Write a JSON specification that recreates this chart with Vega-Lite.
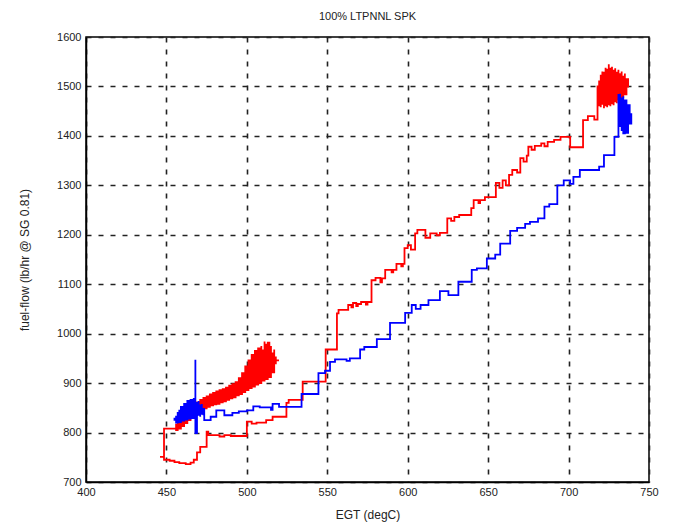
{
  "$schema": "https://vega.github.io/schema/vega-lite/v6.json",
  "width": 563,
  "height": 445,
  "autosize": {"type": "none"},
  "padding": {"left": 86, "top": 37, "right": 31, "bottom": 46},
  "background": "white",
  "title": {
    "text": "100% LTPNNL SPK",
    "font": "Liberation Sans",
    "fontSize": 11,
    "fontWeight": "normal",
    "color": "#222222",
    "anchor": "middle",
    "offset": 9
  },
  "config": {
    "view": {"stroke": "black", "strokeWidth": 1.5},
    "axis": {
      "labelFont": "Liberation Sans",
      "titleFont": "Liberation Sans",
      "labelFontSize": 11,
      "titleFontSize": 12,
      "titleFontWeight": "normal",
      "labelColor": "#222222",
      "titleColor": "#222222",
      "domainColor": "black",
      "domainWidth": 1.5,
      "ticks": false,
      "grid": true,
      "gridColor": "#222222",
      "gridDash": [5, 7],
      "gridWidth": 1.6,
      "gridOpacity": 1,
      "labelFlush": false,
      "format": "d"
    }
  },
  "datasets": {
    "red": [
      {"egt": 520, "ff": 946}, {"egt": 518, "ff": 938}, {"egt": 518, "ff": 952}, {"egt": 517, "ff": 968},
      {"egt": 517, "ff": 922}, {"egt": 516, "ff": 928}, {"egt": 516, "ff": 960}, {"egt": 515, "ff": 975},
      {"egt": 515, "ff": 912}, {"egt": 514, "ff": 918}, {"egt": 514, "ff": 982}, {"egt": 513, "ff": 970},
      {"egt": 513, "ff": 908}, {"egt": 512, "ff": 915}, {"egt": 512, "ff": 978}, {"egt": 511, "ff": 984},
      {"egt": 511, "ff": 905}, {"egt": 510, "ff": 912}, {"egt": 510, "ff": 966}, {"egt": 509, "ff": 975},
      {"egt": 509, "ff": 900}, {"egt": 508, "ff": 908}, {"egt": 508, "ff": 970}, {"egt": 507, "ff": 958},
      {"egt": 507, "ff": 897}, {"egt": 506, "ff": 904}, {"egt": 506, "ff": 965}, {"egt": 505, "ff": 950},
      {"egt": 505, "ff": 893}, {"egt": 504, "ff": 900}, {"egt": 504, "ff": 957}, {"egt": 503, "ff": 940},
      {"egt": 503, "ff": 890}, {"egt": 502, "ff": 896}, {"egt": 502, "ff": 946}, {"egt": 501, "ff": 928},
      {"egt": 501, "ff": 886}, {"egt": 500, "ff": 892}, {"egt": 500, "ff": 934}, {"egt": 499, "ff": 915},
      {"egt": 499, "ff": 882}, {"egt": 498, "ff": 888}, {"egt": 498, "ff": 920}, {"egt": 497, "ff": 905},
      {"egt": 497, "ff": 878}, {"egt": 496, "ff": 884}, {"egt": 496, "ff": 910}, {"egt": 495, "ff": 896},
      {"egt": 495, "ff": 875}, {"egt": 494, "ff": 880}, {"egt": 494, "ff": 902}, {"egt": 493, "ff": 893},
      {"egt": 493, "ff": 871}, {"egt": 492, "ff": 877}, {"egt": 492, "ff": 898}, {"egt": 491, "ff": 888},
      {"egt": 491, "ff": 869}, {"egt": 490, "ff": 874}, {"egt": 490, "ff": 895}, {"egt": 489, "ff": 885},
      {"egt": 489, "ff": 866}, {"egt": 488, "ff": 871}, {"egt": 488, "ff": 891}, {"egt": 487, "ff": 881},
      {"egt": 487, "ff": 863}, {"egt": 486, "ff": 869}, {"egt": 486, "ff": 888}, {"egt": 485, "ff": 878},
      {"egt": 485, "ff": 861}, {"egt": 484, "ff": 866}, {"egt": 484, "ff": 886}, {"egt": 483, "ff": 874},
      {"egt": 483, "ff": 858}, {"egt": 482, "ff": 864}, {"egt": 482, "ff": 883}, {"egt": 481, "ff": 871},
      {"egt": 481, "ff": 857}, {"egt": 480, "ff": 862}, {"egt": 480, "ff": 880}, {"egt": 479, "ff": 868},
      {"egt": 479, "ff": 855}, {"egt": 478, "ff": 860}, {"egt": 478, "ff": 877}, {"egt": 477, "ff": 866},
      {"egt": 477, "ff": 852}, {"egt": 476, "ff": 857}, {"egt": 476, "ff": 873}, {"egt": 475, "ff": 862},
      {"egt": 475, "ff": 849}, {"egt": 474, "ff": 854}, {"egt": 474, "ff": 870}, {"egt": 473, "ff": 859},
      {"egt": 473, "ff": 845}, {"egt": 472, "ff": 850}, {"egt": 472, "ff": 866}, {"egt": 471, "ff": 855},
      {"egt": 471, "ff": 842}, {"egt": 470, "ff": 846}, {"egt": 470, "ff": 861}, {"egt": 469, "ff": 850},
      {"egt": 469, "ff": 836}, {"egt": 468, "ff": 840}, {"egt": 468, "ff": 856}, {"egt": 467, "ff": 845},
      {"egt": 467, "ff": 831}, {"egt": 466, "ff": 834}, {"egt": 466, "ff": 849}, {"egt": 465, "ff": 839},
      {"egt": 465, "ff": 825}, {"egt": 464, "ff": 829}, {"egt": 464, "ff": 843}, {"egt": 463, "ff": 832},
      {"egt": 463, "ff": 819}, {"egt": 462, "ff": 824}, {"egt": 462, "ff": 837}, {"egt": 461, "ff": 826},
      {"egt": 461, "ff": 813}, {"egt": 460, "ff": 818}, {"egt": 460, "ff": 830}, {"egt": 459, "ff": 820},
      {"egt": 459, "ff": 808}, {"egt": 458, "ff": 812}, {"egt": 458, "ff": 824}, {"egt": 457, "ff": 815},
      {"egt": 457, "ff": 805}, {"egt": 456, "ff": 818}, {"egt": 456, "ff": 808},
      {"egt": 448.5, "ff": 806}, {"egt": 448.5, "ff": 751}, {"egt": 446, "ff": 751}, {"egt": 448.5, "ff": 745},
      {"egt": 452, "ff": 743}, {"egt": 455, "ff": 740}, {"egt": 458, "ff": 738}, {"egt": 462, "ff": 736},
      {"egt": 465, "ff": 739}, {"egt": 467, "ff": 745}, {"egt": 469, "ff": 760}, {"egt": 471, "ff": 771},
      {"egt": 475, "ff": 802}, {"egt": 476, "ff": 795}, {"egt": 483, "ff": 792}, {"egt": 486, "ff": 795},
      {"egt": 490, "ff": 793}, {"egt": 500, "ff": 822}, {"egt": 503, "ff": 818}, {"egt": 506, "ff": 820},
      {"egt": 512, "ff": 825}, {"egt": 516, "ff": 832}, {"egt": 524.6, "ff": 860}, {"egt": 526, "ff": 866},
      {"egt": 534.7, "ff": 903}, {"egt": 549, "ff": 968}, {"egt": 556, "ff": 1041}, {"egt": 557, "ff": 1048},
      {"egt": 563, "ff": 1058}, {"egt": 565, "ff": 1053}, {"egt": 566, "ff": 1062}, {"egt": 568, "ff": 1056},
      {"egt": 569, "ff": 1060}, {"egt": 571, "ff": 1064}, {"egt": 574, "ff": 1059}, {"egt": 575, "ff": 1064},
      {"egt": 577.5, "ff": 1108}, {"egt": 580, "ff": 1113}, {"egt": 583, "ff": 1104}, {"egt": 584, "ff": 1112},
      {"egt": 586, "ff": 1129}, {"egt": 590, "ff": 1124}, {"egt": 591, "ff": 1129}, {"egt": 593, "ff": 1141},
      {"egt": 596, "ff": 1136}, {"egt": 597, "ff": 1141}, {"egt": 598, "ff": 1173}, {"egt": 600, "ff": 1179},
      {"egt": 602, "ff": 1170}, {"egt": 604.6, "ff": 1203}, {"egt": 606, "ff": 1210}, {"egt": 611, "ff": 1194},
      {"egt": 614, "ff": 1203}, {"egt": 618, "ff": 1199}, {"egt": 620, "ff": 1204}, {"egt": 624.6, "ff": 1233},
      {"egt": 627, "ff": 1228}, {"egt": 629, "ff": 1236}, {"egt": 632, "ff": 1240}, {"egt": 639.5, "ff": 1254},
      {"egt": 641, "ff": 1270}, {"egt": 644, "ff": 1264}, {"egt": 645, "ff": 1270}, {"egt": 648, "ff": 1276},
      {"egt": 654.8, "ff": 1305}, {"egt": 657, "ff": 1295}, {"egt": 659, "ff": 1310}, {"egt": 661, "ff": 1300},
      {"egt": 663, "ff": 1321}, {"egt": 665, "ff": 1331}, {"egt": 668, "ff": 1326}, {"egt": 670, "ff": 1355},
      {"egt": 672, "ff": 1348}, {"egt": 674, "ff": 1360}, {"egt": 675, "ff": 1378}, {"egt": 677, "ff": 1372},
      {"egt": 679, "ff": 1380}, {"egt": 683, "ff": 1385}, {"egt": 685, "ff": 1379}, {"egt": 687, "ff": 1388},
      {"egt": 691, "ff": 1392}, {"egt": 695, "ff": 1398}, {"egt": 701, "ff": 1377}, {"egt": 709, "ff": 1432},
      {"egt": 712, "ff": 1440}, {"egt": 716, "ff": 1433}, {"egt": 718, "ff": 1470},
      {"egt": 718, "ff": 1500}, {"egt": 719, "ff": 1512}, {"egt": 719, "ff": 1462}, {"egt": 720, "ff": 1458},
      {"egt": 720, "ff": 1522}, {"egt": 721, "ff": 1530}, {"egt": 721, "ff": 1465}, {"egt": 722, "ff": 1456},
      {"egt": 722, "ff": 1528}, {"egt": 723, "ff": 1538}, {"egt": 723, "ff": 1462}, {"egt": 724, "ff": 1458},
      {"egt": 724, "ff": 1534}, {"egt": 725, "ff": 1545}, {"egt": 725, "ff": 1464}, {"egt": 726, "ff": 1460},
      {"egt": 726, "ff": 1536}, {"egt": 727, "ff": 1540}, {"egt": 727, "ff": 1466}, {"egt": 728, "ff": 1462},
      {"egt": 728, "ff": 1532}, {"egt": 729, "ff": 1537}, {"egt": 729, "ff": 1470}, {"egt": 730, "ff": 1466},
      {"egt": 730, "ff": 1528}, {"egt": 731, "ff": 1534}, {"egt": 731, "ff": 1474}, {"egt": 732, "ff": 1470},
      {"egt": 732, "ff": 1525}, {"egt": 733, "ff": 1530}, {"egt": 733, "ff": 1478}, {"egt": 734, "ff": 1476},
      {"egt": 734, "ff": 1520}, {"egt": 735, "ff": 1526}, {"egt": 735, "ff": 1484}, {"egt": 736, "ff": 1490},
      {"egt": 736, "ff": 1515}, {"egt": 737, "ff": 1508}, {"egt": 737, "ff": 1498}
    ],
    "blue": [
      {"egt": 455, "ff": 824}, {"egt": 455, "ff": 828}, {"egt": 456, "ff": 834}, {"egt": 456, "ff": 820},
      {"egt": 457, "ff": 826}, {"egt": 457, "ff": 840}, {"egt": 458, "ff": 846}, {"egt": 458, "ff": 821},
      {"egt": 459, "ff": 828}, {"egt": 459, "ff": 852}, {"egt": 460, "ff": 850}, {"egt": 460, "ff": 824},
      {"egt": 461, "ff": 830}, {"egt": 461, "ff": 858}, {"egt": 462, "ff": 855}, {"egt": 462, "ff": 826},
      {"egt": 463, "ff": 832}, {"egt": 463, "ff": 864}, {"egt": 464, "ff": 860}, {"egt": 464, "ff": 828},
      {"egt": 465, "ff": 834}, {"egt": 465, "ff": 866}, {"egt": 466, "ff": 862}, {"egt": 466, "ff": 829},
      {"egt": 467, "ff": 833}, {"egt": 467, "ff": 868}, {"egt": 468, "ff": 947}, {"egt": 468, "ff": 799},
      {"egt": 469, "ff": 830}, {"egt": 469, "ff": 860}, {"egt": 470, "ff": 864}, {"egt": 470, "ff": 836},
      {"egt": 471, "ff": 832}, {"egt": 471, "ff": 855}, {"egt": 472, "ff": 858}, {"egt": 472, "ff": 838},
      {"egt": 473, "ff": 835}, {"egt": 473, "ff": 848},
      {"egt": 473.5, "ff": 825}, {"egt": 477.5, "ff": 832}, {"egt": 481, "ff": 845}, {"egt": 486, "ff": 835},
      {"egt": 491, "ff": 840}, {"egt": 495, "ff": 843}, {"egt": 500, "ff": 845}, {"egt": 504, "ff": 853},
      {"egt": 508, "ff": 851}, {"egt": 515, "ff": 846}, {"egt": 516, "ff": 858}, {"egt": 520, "ff": 852},
      {"egt": 525, "ff": 852}, {"egt": 534, "ff": 878}, {"egt": 544.5, "ff": 920}, {"egt": 548.6, "ff": 925},
      {"egt": 551.7, "ff": 943}, {"egt": 554.8, "ff": 948}, {"egt": 562, "ff": 945}, {"egt": 564, "ff": 950},
      {"egt": 570.4, "ff": 968}, {"egt": 573, "ff": 973}, {"egt": 580.8, "ff": 989}, {"egt": 589, "ff": 1022},
      {"egt": 598.4, "ff": 1042}, {"egt": 602.5, "ff": 1058}, {"egt": 605, "ff": 1050}, {"egt": 608, "ff": 1058},
      {"egt": 612.9, "ff": 1068}, {"egt": 620, "ff": 1086}, {"egt": 625.3, "ff": 1078}, {"egt": 631.5, "ff": 1105},
      {"egt": 639.8, "ff": 1129}, {"egt": 643, "ff": 1132}, {"egt": 649.2, "ff": 1152}, {"egt": 654.4, "ff": 1160},
      {"egt": 657.5, "ff": 1182}, {"egt": 663.7, "ff": 1208}, {"egt": 668, "ff": 1214}, {"egt": 673, "ff": 1222},
      {"egt": 676, "ff": 1226}, {"egt": 681, "ff": 1233}, {"egt": 685, "ff": 1257}, {"egt": 688, "ff": 1262},
      {"egt": 693, "ff": 1300}, {"egt": 697, "ff": 1310}, {"egt": 701, "ff": 1303}, {"egt": 703, "ff": 1317},
      {"egt": 707, "ff": 1331}, {"egt": 719, "ff": 1338}, {"egt": 722, "ff": 1361}, {"egt": 728.5, "ff": 1398},
      {"egt": 731, "ff": 1440}, {"egt": 731, "ff": 1483}, {"egt": 732, "ff": 1485}, {"egt": 732, "ff": 1420},
      {"egt": 733, "ff": 1410}, {"egt": 733, "ff": 1476}, {"egt": 734, "ff": 1480}, {"egt": 734, "ff": 1405},
      {"egt": 735, "ff": 1412}, {"egt": 735, "ff": 1472}, {"egt": 736, "ff": 1468}, {"egt": 736, "ff": 1406},
      {"egt": 737, "ff": 1418}, {"egt": 737, "ff": 1462}, {"egt": 738, "ff": 1450}, {"egt": 738, "ff": 1425},
      {"egt": 739, "ff": 1432}, {"egt": 739, "ff": 1446}
    ]
  },
  "encoding": {
    "x": {
      "field": "egt",
      "type": "quantitative",
      "scale": {"domain": [400, 750], "nice": false, "zero": false},
      "axis": {
        "title": "EGT (degC)",
        "values": [400, 450, 500, 550, 600, 650, 700, 750],
        "labelPadding": 4,
        "titlePadding": 12
      }
    },
    "y": {
      "field": "ff",
      "type": "quantitative",
      "scale": {"domain": [700, 1600], "nice": false, "zero": false},
      "axis": {
        "title": "fuel-flow (lb/hr @ SG 0.81)",
        "values": [700, 800, 900, 1000, 1100, 1200, 1300, 1400, 1500, 1600],
        "labelPadding": 5,
        "titlePadding": 25
      }
    },
    "order": {"value": null}
  },
  "layer": [
    {
      "data": {"name": "red"},
      "mark": {"type": "line", "interpolate": "step-after", "color": "#ff0000", "strokeWidth": 1.8, "clip": true}
    },
    {
      "data": {"name": "blue"},
      "mark": {"type": "line", "interpolate": "step-after", "color": "#0000ff", "strokeWidth": 1.8, "clip": true}
    }
  ]
}
